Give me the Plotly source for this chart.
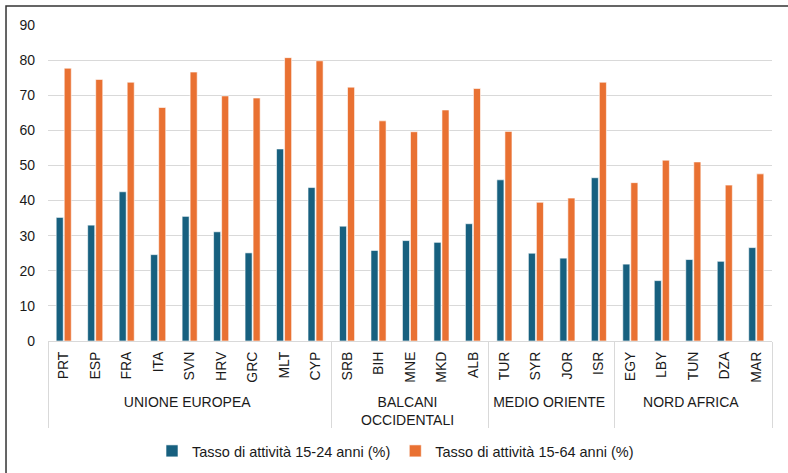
import plotly.graph_objects as go

groups = ["UNIONE EUROPEA"] * 9 + ["BALCANI<br>OCCIDENTALI"] * 5 + ["MEDIO ORIENTE"] * 4 + ["NORD AFRICA"] * 5
countries = ["PRT", "ESP", "FRA", "ITA", "SVN", "HRV", "GRC", "MLT", "CYP",
             "SRB", "BIH", "MNE", "MKD", "ALB",
             "TUR", "SYR", "JOR", "ISR",
             "EGY", "LBY", "TUN", "DZA", "MAR"]
youth = [35.2, 33.0, 42.5, 24.6, 35.5, 31.1, 25.1, 54.7, 43.7,
         32.7, 25.8, 28.6, 28.1, 33.4,
         45.9, 25.0, 23.6, 46.5,
         21.9, 17.2, 23.2, 22.7, 26.6]
total = [77.7, 74.5, 73.7, 66.5, 76.6, 69.8, 69.2, 80.7, 79.8,
         72.3, 62.7, 59.6, 65.8, 71.9,
         59.7, 39.5, 40.7, 73.7,
         45.1, 51.5, 51.0, 44.4, 47.6]
series_names = ["Tasso di attività 15-24 anni (%)", "Tasso di attività 15-64 anni (%)"]
y_ticks = [0, 10, 20, 30, 40, 50, 60, 70, 80, 90]

fig = go.Figure()
fig.add_trace(go.Bar(x=[groups, countries], y=youth, name=series_names[0],
                     marker=dict(color="#17607F", line=dict(color="#ffffff", width=0.6))))
fig.add_trace(go.Bar(x=[groups, countries], y=total, name=series_names[1],
                     marker=dict(color="#E97132", line=dict(color="#ffffff", width=0.6))))

fig.update_layout(
    width=788, height=473,
    margin=dict(l=48, r=16, t=25, b=132, autoexpand=False),
    paper_bgcolor="white", plot_bgcolor="white",
    barmode="group", bargap=0.49, bargroupgap=0.12,
    font=dict(family="Liberation Sans, Arial, sans-serif", size=14, color="#1a1a1a"),
    legend=dict(orientation="h", x=0.48, xanchor="center", y=-0.348, yanchor="middle",
                font=dict(family="Liberation Sans, Arial", size=14.5),
                itemwidth=30, traceorder="normal", tracegroupgap=0),
    xaxis=dict(type="multicategory", tickangle=-90, showline=True, linecolor="#d9d9d9",
               linewidth=1, showdividers=True, dividercolor="#d9d9d9", dividerwidth=1,
               ticks="", automargin=False, ticklabelstandoff=4,
               tickfont=dict(size=14, family="Liberation Sans, Arial")),
    yaxis=dict(range=[0, 90], tickvals=y_ticks, showgrid=True, gridcolor="#d9d9d9",
               gridwidth=1, zeroline=False, ticks="", automargin=False,
               ticklabelstandoff=12, tickfont=dict(size=14)),
    shapes=[dict(type="rect", xref="paper", yref="paper", x0=-0.058, x1=1.06,
                 y0=-0.5, y1=1.06, line=dict(color="#333333", width=1.5))],
)
fig.write_html("out.html", config={"displayModeBar": False},
               post_script="document.body.style.margin='0';")
